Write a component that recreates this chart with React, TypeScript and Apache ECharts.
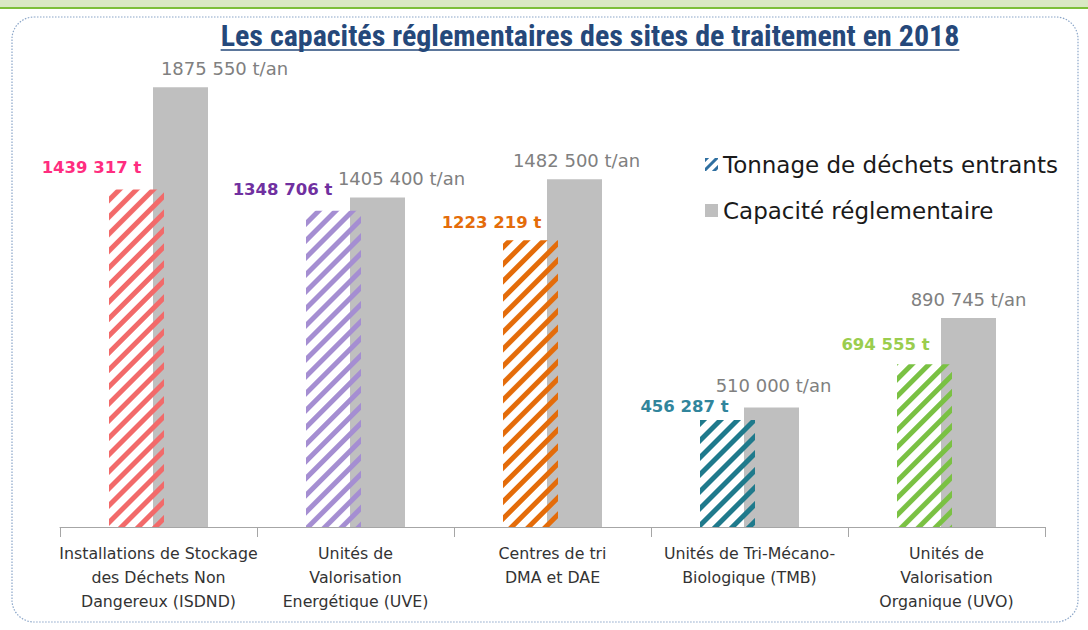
import React, { useEffect, useRef } from "react";
import * as echarts from "echarts";

const categories = [
  "Installations de Stockage\ndes Déchets Non\nDangereux (ISDND)",
  "Unités de\nValorisation\nEnergétique (UVE)",
  "Centres de tri\nDMA et DAE",
  "Unités de Tri-Mécano-\nBiologique (TMB)",
  "Unités de\nValorisation\nOrganique (UVO)",
];
const tonnage = [1439317, 1348706, 1223219, 456287, 694555];
const capacite = [1875550, 1405400, 1482500, 510000, 890745];
const seriesNames = ["Tonnage de déchets entrants", "Capacité réglementaire"];
const titleText = "Les capacités réglementaires des sites de traitement en 2018";

// styles
const hatchColors = ["#F26A6A", "#A58ED2", "#E46C0A", "#1F7A8C", "#7AC143"];
const tonLabelColors = ["#FF2D7F", "#7030A0", "#E46C0A", "#31859C", "#9ACD4E"];
const tonLabelDx = [-45, -51, -39, -43, -39];
const tonLabelDy = [-8, -8, -4, 0, -6];
const capLabelDx = [44, 24, 2, 2, 0];
const capLabelDy = [-5, -5, -5, -8, -5];

const FONT = "'DejaVu Sans', 'Open Sans', sans-serif";
const TITLE_FONT = "'Liberation Sans Narrow', 'Roboto Condensed', 'Liberation Sans', sans-serif";

function fmt(v: number) {
  const hi = Math.floor(v / 1000);
  const lo = String(v % 1000).padStart(3, "0");
  return hi + " " + lo;
}

function hatch(color: string) {
  return {
    symbol: "rect",
    symbolSize: 1,
    dashArrayX: [1, 0],
    dashArrayY: [5, 7],
    rotation: -Math.PI / 4,
    color,
    backgroundColor: "rgba(0,0,0,0)",
  };
}

export default function App() {
  const ref = useRef<HTMLDivElement>(null);
  useEffect(() => {
    if (!ref.current) return;
    const chart = echarts.init(ref.current, null, { renderer: "svg" });
    const titleFont = `bold 30px ${TITLE_FONT}`;
    let tw = 736;
    try {
      const ctx = document.createElement("canvas").getContext("2d");
      if (ctx) {
        ctx.font = titleFont;
        tw = ctx.measureText(titleText).width;
      }
    } catch (e) {}
    const tcx = 590;
    chart.setOption({
      animation: false,
      backgroundColor: "#ffffff",
      textStyle: { fontFamily: FONT },
      grid: { left: 60, right: 43, top: 58, bottom: 103, containLabel: false },
      legend: {
        orient: "vertical",
        left: 700,
        top: 148,
        itemWidth: 13,
        itemHeight: 13,
        itemGap: 23,
        icon: "rect",
        textStyle: { fontSize: 23, color: "#1a1a1a", fontFamily: FONT },
        data: [
          {
            name: seriesNames[0],
            itemStyle: {
              color: "rgba(0,0,0,0)",
              decal: {
                symbol: "rect",
                symbolSize: 1,
                dashArrayX: [1, 0],
                dashArrayY: [3, 4],
                rotation: -Math.PI / 4,
                color: "#2F6FA0",
                backgroundColor: "rgba(0,0,0,0)",
              },
            },
          },
          { name: seriesNames[1], itemStyle: { color: "#BFBFBF" } },
        ],
      },
      xAxis: {
        type: "category",
        data: categories,
        axisLine: { lineStyle: { color: "#A6A6A6", width: 1 } },
        axisTick: { show: true, length: 10, lineStyle: { color: "#A6A6A6" } },
        axisLabel: {
          color: "#333333",
          fontSize: 15.8,
          lineHeight: 24,
          margin: 14,
          interval: 0,
          fontFamily: FONT,
        },
      },
      yAxis: { type: "value", min: 0, max: 2000000, show: false, splitLine: { show: false } },
      series: [
        {
          name: seriesNames[0],
          type: "bar",
          barWidth: 55,
          barGap: "-20%",
          z: 3,
          data: tonnage.map((v, i) => ({
            value: v,
            itemStyle: { color: "rgba(0,0,0,0)", decal: hatch(hatchColors[i]) },
            label: {
              show: true,
              position: "top",
              offset: [tonLabelDx[i], tonLabelDy[i]],
              formatter: fmt(v) + " t",
              color: tonLabelColors[i],
              fontWeight: "bold",
              fontSize: 16.5,
              fontFamily: FONT,
            },
          })),
          itemStyle: { color: "rgba(0,0,0,0)" },
        },
        {
          name: seriesNames[1],
          type: "bar",
          barWidth: 55,
          barGap: "-20%",
          z: 2,
          itemStyle: { color: "#BFBFBF" },
          data: capacite.map((v, i) => ({
            value: v,
            label: {
              show: true,
              position: "top",
              offset: [capLabelDx[i], capLabelDy[i]],
              formatter: fmt(v) + " t/an",
              color: "#808080",
              fontSize: 18,
              fontFamily: FONT,
            },
          })),
        },
      ],
      graphic: [
        {
          type: "rect",
          z: -10,
          silent: true,
          shape: { x: -20, y: -30, width: 1128, height: 38, r: 10 },
          style: { fill: "#D9E8C4", stroke: "#7CBF3A", lineWidth: 2 },
        },
        {
          type: "rect",
          z: -10,
          silent: true,
          shape: { x: 12, y: 17, width: 1066, height: 605, r: 22 },
          style: { fill: "#ffffff", stroke: "#8AA5C8", lineWidth: 1.2, lineDash: [1.5, 1.5] },
        },
        {
          type: "text",
          x: tcx,
          y: 35,
          style: {
            text: titleText,
            font: titleFont,
            fill: "#25487A",
            textAlign: "center",
            textVerticalAlign: "middle",
          },
        },
        {
          type: "line",
          shape: { x1: tcx - tw / 2, y1: 50, x2: tcx + tw / 2, y2: 50 },
          style: { stroke: "#25487A", lineWidth: 1.5 },
        },
      ],
    });
    return () => chart.dispose();
  }, []);
  return (
    <div
      ref={ref}
      style={{ position: "fixed", left: 0, top: 0, width: 1088, height: 630 }}
    />
  );
}
